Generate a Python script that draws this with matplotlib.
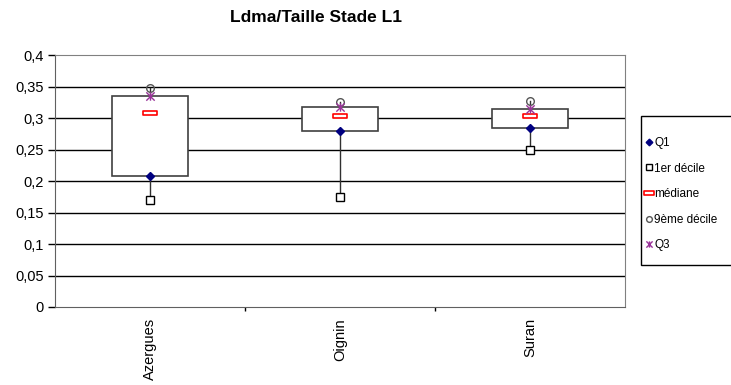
import numpy as np
import matplotlib
matplotlib.use("Agg")
import matplotlib.pyplot as plt
from matplotlib.path import Path
from matplotlib.patches import Rectangle

plt.rcParams["font.family"] = ["Liberation Sans", "DejaVu Sans"]

# ─── data ────────────────────────────────────────────────────────────────────
categories = ["Azergues", "Oignin", "Suran"]
q1         = [0.208, 0.280, 0.284]
decile1    = [0.170, 0.174, 0.249]
mediane    = [0.308, 0.304, 0.303]
decile9    = [0.348, 0.326, 0.327]
q3         = [0.335, 0.317, 0.315]
yticks     = [0, 0.05, 0.1, 0.15, 0.2, 0.25, 0.3, 0.35, 0.4]

# custom markers: Excel-like star (x + vertical bar) and flat dash for median
star = Path([(-1, -1), (1, 1), (-1, 1), (1, -1), (0, -1), (0, 1)],
            [Path.MOVETO, Path.LINETO, Path.MOVETO, Path.LINETO, Path.MOVETO, Path.LINETO])
dash = Path([(-1, -0.3), (1, -0.3), (1, 0.3), (-1, 0.3), (-1, -0.3)],
            [Path.MOVETO, Path.LINETO, Path.LINETO, Path.LINETO, Path.CLOSEPOLY])

W, H = 731, 385
fig = plt.figure(figsize=(W / 100, H / 100), dpi=100)
ax = fig.add_axes([0.0752, 0.2026, 0.78, 0.6544])

x = np.arange(len(categories))
ax.set_xlim(-0.5, len(categories) - 0.5)
ax.set_ylim(0, 0.4)

for v in yticks[1:-1]:
    ax.axhline(v, color="black", lw=1.0, zorder=1)

# whiskers
for i in range(len(categories)):
    ax.plot([x[i], x[i]], [decile1[i], q1[i]], color="#303030", lw=1.0, zorder=2)
    ax.plot([x[i], x[i]], [q3[i], decile9[i]], color="#303030", lw=1.0, zorder=2)

# boxes (Q1 -> Q3)
bw = 0.4
for i in range(len(categories)):
    ax.add_patch(Rectangle((x[i] - bw / 2, q1[i]), bw, q3[i] - q1[i],
                           facecolor="white", edgecolor="#404040", lw=1.2, zorder=3))

ax.plot(x, q1, ls="none", marker="D", ms=4.5, color="#000080", label="Q1", zorder=5)
ax.plot(x, decile1, ls="none", marker="s", ms=5.5, mfc="white", mec="black", mew=1.0,
        label="1er décile", zorder=5)
ax.plot(x, mediane, ls="none", marker=dash, ms=10, mfc="white", mec="red", mew=1.2,
        label="médiane", zorder=5)
ax.plot(x, decile9, ls="none", marker="o", ms=5.5, mfc="none", mec="#555555", mew=1.0,
        label="9ème décile", zorder=5)
ax.plot(x, q3, ls="none", marker=star, ms=6, mfc="none", mec="#993399", mew=1.0,
        label="Q3", zorder=6)

# axes styling
ax.set_yticks(yticks)
ax.set_yticklabels([f"{v:g}".replace(".", ",") for v in yticks], fontsize=10.5)
ax.tick_params(axis="y", direction="out", length=5, width=1, pad=3)
ax.set_xticks(x)
ax.set_xticklabels(categories, rotation=90, fontsize=10.5)
ax.tick_params(axis="x", length=0, pad=8)
ax.set_xticks([0.5, 1.5], minor=True)
ax.tick_params(axis="x", which="minor", direction="out", length=3, width=1)
for s in ["top", "right"]:
    ax.spines[s].set_color("#808080")
for s in ["left", "bottom"]:
    ax.spines[s].set_color("#606060")

fig.text(316 / W, 1 - 17 / H, "Ldma/Taille Stade L1", ha="center", va="center",
         fontsize=12.5, fontweight="bold")

# legend: frame drawn by hand so padding can match the reference
fig.patches.append(Rectangle((641 / W, 1 - 265 / H), 95 / W, 149 / H,
                             transform=fig.transFigure, facecolor="white",
                             edgecolor="black", lw=1.0))
leg = fig.legend(loc="upper left", bbox_to_anchor=(645 / W, 1 - 137 / H), fontsize=8.5,
                 frameon=False, handlelength=0.6, handletextpad=0.2,
                 labelspacing=1.15, borderpad=0, borderaxespad=0, markerscale=0.75)

fig.savefig("out.png", dpi=100)
